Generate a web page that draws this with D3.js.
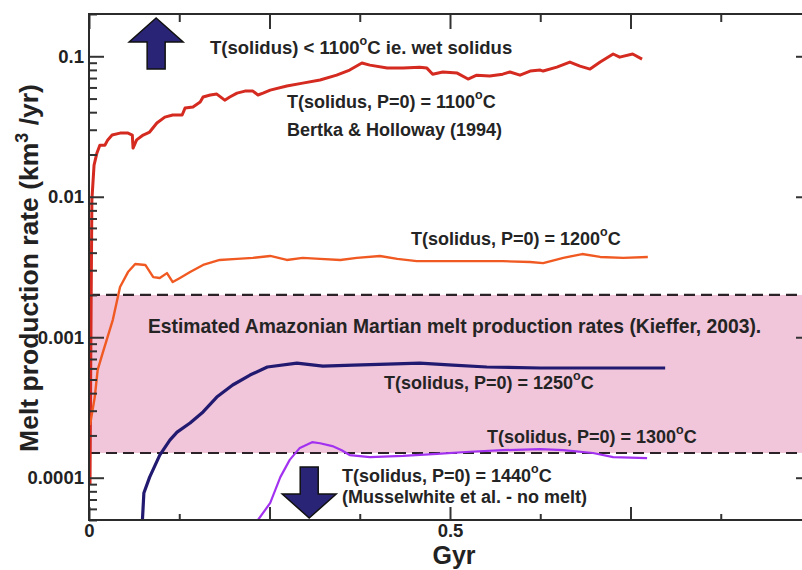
<!DOCTYPE html>
<html>
<head>
<meta charset="utf-8">
<script src="https://cdn.jsdelivr.net/npm/d3@7/dist/d3.min.js"></script>
<style>
  body { margin: 0; background: #fff; }
  text { font-family: "Liberation Sans", Arial, sans-serif; }
</style>
</head>
<body>
<svg id="chart" width="802" height="570"></svg>
<script>
// melt production rate (km3/yr) against time (Gyr)
var red1100 = [[0.0014,0.000089],[0.003,0.00184],[0.004,0.0095],[0.007,0.0168],[0.011,0.0205],[0.015,0.0233],
  [0.022,0.0233],[0.026,0.0254],[0.032,0.0275],[0.043,0.0284],[0.054,0.0284],[0.060,0.0275],[0.061,0.0222],
  [0.066,0.0254],[0.075,0.0275],[0.084,0.0289],[0.094,0.0335],[0.105,0.0369],[0.116,0.0382],[0.129,0.0382],
  [0.133,0.0428],[0.144,0.0436],[0.154,0.0472],[0.158,0.0513],[0.168,0.0530],[0.177,0.0538],[0.188,0.0487],
  [0.195,0.0513],[0.205,0.0547],[0.216,0.0565],[0.227,0.0565],[0.234,0.0530],[0.241,0.0547],[0.251,0.0574],
  [0.274,0.0614],[0.296,0.0644],[0.320,0.0678],[0.343,0.0734],[0.361,0.0798],[0.378,0.0895],[0.389,0.0865],
  [0.413,0.0824],[0.435,0.0824],[0.458,0.0837],[0.468,0.0824],[0.476,0.0746],[0.490,0.0773],[0.510,0.0759],
  [0.525,0.0689],[0.537,0.0734],[0.555,0.0723],[0.573,0.0746],[0.583,0.0773],[0.597,0.0734],[0.611,0.0785],
  [0.625,0.0798],[0.629,0.0785],[0.648,0.0837],[0.666,0.0910],[0.680,0.0851],[0.694,0.0811],[0.708,0.0910],
  [0.726,0.1038],[0.735,0.0986],[0.753,0.1038],[0.766,0.0955]];

var orange1200 = [[0.0014,0.000237],[0.008,0.000375],[0.012,0.000585],[0.019,0.000773],[0.033,0.00133],
  [0.043,0.00228],[0.054,0.00291],[0.064,0.00332],[0.078,0.00327],[0.089,0.00268],[0.098,0.00264],
  [0.108,0.00286],[0.116,0.00247],[0.126,0.00264],[0.140,0.00291],[0.158,0.00327],[0.181,0.00355],
  [0.205,0.00361],[0.227,0.00367],[0.251,0.00379],[0.274,0.00355],[0.296,0.00367],[0.320,0.00361],
  [0.348,0.00355],[0.371,0.00367],[0.403,0.00379],[0.427,0.00361],[0.454,0.00348],[0.482,0.00348],
  [0.528,0.00348],[0.573,0.00348],[0.611,0.00343],[0.629,0.00337],[0.657,0.00367],[0.683,0.00391],
  [0.708,0.00373],[0.740,0.00367],[0.774,0.00373]];

var navy1250 = [[0.074,0.00005],[0.076,0.0000778],[0.084,0.000101],[0.098,0.000145],[0.112,0.000185],
  [0.122,0.000211],[0.140,0.000245],[0.158,0.000294],[0.177,0.000375],[0.199,0.000457],[0.223,0.000538],
  [0.247,0.000614],[0.288,0.000655],[0.324,0.000623],[0.366,0.000634],[0.413,0.000644],[0.458,0.000655],
  [0.504,0.000634],[0.551,0.000614],[0.625,0.000604],[0.704,0.000604],[0.798,0.000604]];

var purple1300 = [[0.234,0.00005],[0.251,0.0000661],[0.265,0.000101],[0.278,0.000134],[0.292,0.000163],
  [0.309,0.000179],[0.320,0.000176],[0.337,0.000168],[0.350,0.000157],[0.361,0.000145],[0.389,0.000140],
  [0.435,0.000143],[0.482,0.000148],[0.528,0.000153],[0.573,0.000157],[0.625,0.000160],[0.657,0.000157],
  [0.698,0.000150],[0.726,0.000140],[0.773,0.000138]];

// Kieffer (2003) band
var bandLow = 0.00015, bandHigh = 0.002;

var yMajor = [0.0001, 0.001, 0.01, 0.1];
var yLabels = ["0.0001", "0.001", "0.01", "0.1"];
var xMajor = [0, 0.25, 0.5, 0.75, 1];
var xMinor = [0.125, 0.375, 0.625, 0.875];
var xLabels = {0: "0", 0.5: "0.5"};

var svg = d3.select("#chart");
var pL = 89, pR = 811, pT = 14, pB = 520;

var x = d3.scaleLinear().domain([0, 1]).range([pL, pR]);
var y = d3.scaleLog().domain([0.00005, 0.2]).range([pB, pT]);

var yMinor = [];
[0.00001, 0.0001, 0.001, 0.01, 0.1].forEach(function (d) {
  for (var k = 2; k <= 9; k++) {
    var v = d * k;
    if (v >= 0.00005 && v <= 0.2) yMinor.push(v);
  }
});

svg.append("defs").append("clipPath").attr("id", "plot")
  .append("rect").attr("x", pL).attr("y", pT).attr("width", pR - pL).attr("height", pB - pT);

// shaded band + dashed bounds
svg.append("rect")
  .attr("x", pL).attr("width", pR - pL)
  .attr("y", y(bandHigh)).attr("height", y(bandLow) - y(bandHigh))
  .attr("fill", "#f1c6da");

[bandHigh, bandLow].forEach(function (v) {
  svg.append("line")
    .attr("x1", pL).attr("x2", pR)
    .attr("y1", y(v)).attr("y2", y(v))
    .attr("stroke", "#2a2226").attr("stroke-width", 2.2)
    .attr("stroke-dasharray", "11,6");
});

var line = d3.line()
  .x(function (d) { return x(d[0]); })
  .y(function (d) { return y(d[1]); });

var series = [
  {data: red1100, color: "#d42a20", w: 3},
  {data: orange1200, color: "#f05a22", w: 2.4},
  {data: navy1250, color: "#221a70", w: 3.2},
  {data: purple1300, color: "#a232f0", w: 2.2}
];

var g = svg.append("g").attr("clip-path", "url(#plot)");
series.forEach(function (s) {
  g.append("path")
    .attr("d", line(s.data))
    .attr("fill", "none")
    .attr("stroke", s.color)
    .attr("stroke-width", s.w)
    .attr("stroke-linejoin", "round");
});

// axes, ticks pointing inward
var axisStyle = function (sel) {
  sel.select(".domain").remove();
  sel.selectAll("line").attr("stroke", "#333").attr("stroke-width", 2);
  sel.selectAll("text")
    .attr("fill", "#222")
    .attr("font-size", 18.5)
    .attr("font-weight", "bold");
};

svg.append("g").attr("transform", "translate(" + pL + ",0)")
  .call(d3.axisLeft(y).tickValues(yMajor).tickSize(-15).tickPadding(5)
    .tickFormat(function (d, i) { return yLabels[i]; }))
  .call(axisStyle);
svg.append("g").attr("transform", "translate(" + pL + ",0)")
  .call(d3.axisLeft(y).tickValues(yMinor).tickSize(-8).tickFormat(""))
  .call(axisStyle);
svg.append("g").attr("transform", "translate(" + pR + ",0)")
  .call(d3.axisRight(y).tickValues(yMajor).tickSize(-15).tickFormat(""))
  .call(axisStyle);
svg.append("g").attr("transform", "translate(" + pR + ",0)")
  .call(d3.axisRight(y).tickValues(yMinor).tickSize(-8).tickFormat(""))
  .call(axisStyle);

svg.append("g").attr("transform", "translate(0," + pB + ")")
  .call(d3.axisBottom(x).tickValues(xMajor).tickSize(-13).tickPadding(4)
    .tickFormat(function (d) { return xLabels[d] || ""; }))
  .call(axisStyle);
svg.append("g").attr("transform", "translate(0," + pB + ")")
  .call(d3.axisBottom(x).tickValues(xMinor).tickSize(-6).tickFormat(""))
  .call(axisStyle);
svg.append("g").attr("transform", "translate(0," + pT + ")")
  .call(d3.axisTop(x).tickValues(xMajor).tickSize(-15).tickFormat(""))
  .call(axisStyle);
svg.append("g").attr("transform", "translate(0," + pT + ")")
  .call(d3.axisTop(x).tickValues(xMinor).tickSize(-8).tickFormat(""))
  .call(axisStyle);

svg.append("rect")
  .attr("x", pL).attr("y", pT).attr("width", pR - pL).attr("height", pB - pT)
  .attr("fill", "none").attr("stroke", "#2b2b2b").attr("stroke-width", 2);

// axis titles
svg.append("text")
  .attr("transform", "translate(38,268) rotate(-90)")
  .attr("text-anchor", "middle")
  .attr("font-size", 26.5).attr("font-weight", "bold").attr("fill", "#222")
  .call(function (t) {
    t.append("tspan").text("Melt production rate (km");
    t.append("tspan").attr("dy", -10).attr("font-size", 18).text("3");
    t.append("tspan").attr("dy", 10).text(" /yr)");
  });

svg.append("text")
  .attr("x", x(0.5) + 4).attr("y", 564)
  .attr("text-anchor", "middle")
  .attr("font-size", 25).attr("font-weight", "bold").attr("fill", "#222")
  .text("Gyr");

// annotations
var ink = "#242424";
var degLabel = function (px, py, before, after, fs) {
  fs = fs || 18;
  var t = svg.append("text")
    .attr("x", px).attr("y", py)
    .attr("font-size", fs).attr("font-weight", "bold").attr("fill", ink);
  t.append("tspan").text(before);
  t.append("tspan").attr("dy", -9).attr("font-size", 12.5).text("o");
  t.append("tspan").attr("dy", 9).text("C" + (after || ""));
  return t;
};
var plainLabel = function (px, py, s, fs) {
  return svg.append("text")
    .attr("x", px).attr("y", py)
    .attr("font-size", fs || 18).attr("font-weight", "bold").attr("fill", ink)
    .text(s);
};

degLabel(210, 54, "T(solidus) < 1100", " ie. wet solidus", 18.5);
degLabel(287, 108, "T(solidus, P=0) = 1100");
plainLabel(287, 136, "Bertka & Holloway (1994)");
degLabel(411, 245, "T(solidus, P=0) = 1200");
plainLabel(148, 333, "Estimated Amazonian Martian melt production rates (Kieffer, 2003).", 19.3);
degLabel(384, 389, "T(solidus, P=0) = 1250");
degLabel(487, 443, "T(solidus, P=0) = 1300");
degLabel(342, 482, "T(solidus, P=0) = 1440");
plainLabel(342, 503, "(Musselwhite et al. - no melt)");

// arrows: wet solidus (up) and no melt (down)
var arrow = function (cx, tipY, dir) {
  var hw = 27, sw = 9, headH = 24, len = 51;
  var b = tipY + dir * headH, e = tipY + dir * len;
  var pts = [[cx, tipY], [cx + hw, b], [cx + sw, b], [cx + sw, e], [cx - sw, e], [cx - sw, b], [cx - hw, b]];
  svg.append("polygon")
    .attr("points", pts.map(function (p) { return p.join(","); }).join(" "))
    .attr("fill", "#2a2477").attr("stroke", "#111").attr("stroke-width", 1.5);
};
arrow(x(0.093), 18, 1);
arrow(x(0.305), 518, -1);
</script>
</body>
</html>
